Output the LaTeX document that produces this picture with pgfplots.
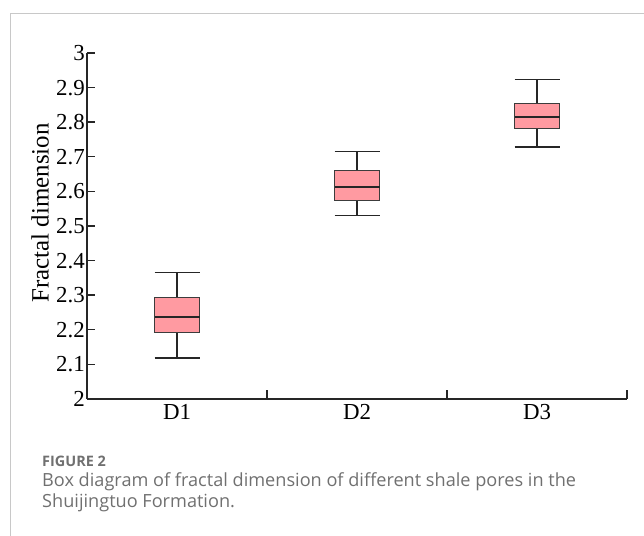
\documentclass[border=0pt]{standalone}
\usepackage{fontspec}
\setmainfont{Liberation Serif}
\newfontfamily\tnr{Liberation Serif}
\newfontfamily\capfont{Open Sans}
\usepackage{pgfplots}
\usepgfplotslibrary{statistics}
\pgfplotsset{compat=1.18}
\definecolor{boxfill}{RGB}{255,154,161}
\definecolor{boxedge}{RGB}{60,60,60}
\definecolor{frame}{RGB}{200,200,200}
\definecolor{captxt}{RGB}{112,112,112}
\newcommand{\tl}[1]{\mbox{\tnr\fontsize{23}{23}\selectfont #1}}
\begin{document}
\begin{tikzpicture}[x=1bp,y=1bp]
\path[use as bounding box] (0,0) rectangle (644,536);
\draw[frame, line width=1.2bp] (10.5,0) -- (10.5,522.5) -- (644,522.5);
\begin{axis}[
  at={(87bp,137bp)}, anchor=south west,
  scale only axis, width=540bp, height=346bp,
  xmin=0.5, xmax=3.5, ymin=2, ymax=3,
  axis x line*=bottom, axis y line*=left,
  axis line style={line width=1.4bp, black!85},
  tick align=inside,
  /pgf/number format/assume math mode=true,
  xtick={1,2,3}, xticklabels={\tl{D1},\tl{D2},\tl{D3}},
  minor xtick={1.5,2.5,3.5},
  major x tick style={draw=none},
  minor x tick style={line width=1.4bp, black!85},
  y tick style={line width=1.4bp, black!85},
  major tick length=8bp, minor tick length=9bp,
  ytick={2,2.1,2.2,2.3,2.4,2.5,2.6,2.7,2.8,2.9,3},
  yticklabels={\tl{2},\tl{2.1},\tl{2.2},\tl{2.3},\tl{2.4},\tl{2.5},\tl{2.6},\tl{2.7},\tl{2.8},\tl{2.9},\tl{3}},
  tick label style={font=\tnr\fontsize{23}{23}\selectfont, text=black},
  yticklabel style={inner sep=2bp},
  xticklabel style={inner sep=5bp},
  ylabel={Fractal dimension},
  ylabel style={at={(axis description cs:-0.087,0.538)}, anchor=center, font=\tnr\fontsize{25}{25}\selectfont},
  boxplot/draw direction=y,
  boxplot/box extend=0.25,
  boxplot/whisker extend=0.25,
  boxplot/every box/.style={fill=boxfill, draw=boxedge, line width=1.3bp},
  boxplot/every whisker/.style={draw=black!85, line width=1.5bp},
  boxplot/every median/.style={draw=black!85, line width=2bp},
]
\addplot+[mark=none, black, boxplot prepared={draw position=1,
  lower whisker=2.118, lower quartile=2.192, median=2.236,
  upper quartile=2.293, upper whisker=2.366}] coordinates {};
\addplot+[mark=none, black, boxplot prepared={draw position=2,
  lower whisker=2.530, lower quartile=2.573, median=2.614,
  upper quartile=2.660, upper whisker=2.716}] coordinates {};
\addplot+[mark=none, black, boxplot prepared={draw position=3,
  lower whisker=2.729, lower quartile=2.781, median=2.816,
  upper quartile=2.855, upper whisker=2.924}] coordinates {};
\end{axis}
\node[anchor=base west, inner sep=0, text=captxt, font=\capfont\bfseries\fontsize{14.5}{14.5}\selectfont] at (42,69) {FIGURE 2};
\node[anchor=base west, inner sep=0, text=captxt, font=\capfont\fontsize{18.2}{18.2}\selectfont] at (42,49) {Box diagram of fractal dimension of different shale pores in the};
\node[anchor=base west, inner sep=0, text=captxt, font=\capfont\fontsize{18.2}{18.2}\selectfont] at (42,28.5) {Shuijingtuo Formation.};
\end{tikzpicture}
\end{document}
